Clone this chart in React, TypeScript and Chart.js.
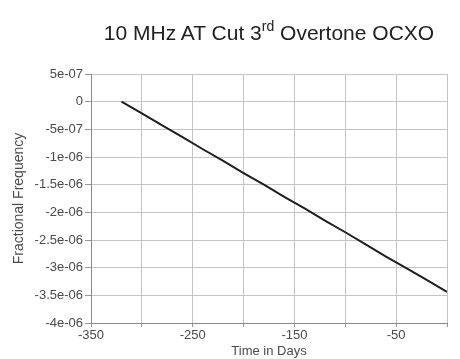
import React, { useEffect, useRef } from "react";
import { Chart, registerables } from "chart.js";

Chart.register(...registerables);

const days = [-320, -300, -280, -260, -240, -220, -200, -180, -160, -140, -120, -100, -80, -60, -40, -20, 0];
const fractionalFrequency = [
  0, -0.21e-6, -0.43e-6, -0.64e-6, -0.86e-6, -1.07e-6, -1.29e-6, -1.5e-6, -1.72e-6,
  -1.93e-6, -2.15e-6, -2.36e-6, -2.58e-6, -2.8e-6, -3.01e-6, -3.22e-6, -3.44e-6,
];
const yTickValues = [5e-7, 0, -5e-7, -1e-6, -1.5e-6, -2e-6, -2.5e-6, -3e-6, -3.5e-6, -4e-6];
const yTickLabels = ["5e-07", "0", "-5e-07", "-1e-06", "-1.5e-06", "-2e-06", "-2.5e-06", "-3e-06", "-3.5e-06", "-4e-06"];
const xTickValues = [-350, -300, -250, -200, -150, -100, -50, 0];
const xTickLabels = ["-350", "", "-250", "", "-150", "", "-50", ""];

const FONT = "'Liberation Sans', Arial, sans-serif";

export default function App() {
  const ref = useRef<HTMLCanvasElement>(null);
  useEffect(() => {
    if (!ref.current) return;
    const chart = new Chart(ref.current, {
      type: "line",
      data: {
        datasets: [
          {
            data: days.map((d, i) => ({ x: d, y: fractionalFrequency[i] })),
            borderColor: "#1e1e1e",
            borderWidth: 2,
            pointRadius: 0,
            tension: 0,
          },
        ],
      },
      options: {
        animation: false,
        responsive: true,
        maintainAspectRatio: false,
        layout: { padding: { top: 74, right: 13, left: 0, bottom: 0 } },
        plugins: { legend: { display: false }, tooltip: { enabled: false }, title: { display: false } },
        scales: {
          x: {
            type: "linear",
            min: -350,
            max: 0,
            afterBuildTicks: (s: any) => {
              s.ticks = xTickValues.map((v) => ({ value: v }));
            },
            afterFit: (s: any) => {
              s.height = 36;
            },
            ticks: {
              autoSkip: false,
              maxRotation: 0,
              padding: 1,
              color: "#4a4a4a",
              font: { family: FONT, size: 13 },
              callback: (_v: any, i: number) => xTickLabels[i],
            },
            grid: { color: "#c4c4c4", tickLength: 4, tickColor: "#999" },
            border: { color: "#8a8a8a" },
            title: {
              display: true,
              text: "Time in Days",
              color: "#4a4a4a",
              font: { family: FONT, size: 13 },
              padding: { top: 0, bottom: 0 },
            },
          },
          y: {
            type: "linear",
            min: -4e-6,
            max: 5e-7,
            afterBuildTicks: (s: any) => {
              s.ticks = yTickValues.map((v) => ({ value: v }));
            },
            afterFit: (s: any) => {
              s.width = 91;
            },
            ticks: {
              autoSkip: false,
              padding: 2,
              color: "#4a4a4a",
              font: { family: FONT, size: 13 },
              callback: (_v: any, i: number) => yTickLabels[i],
            },
            grid: { color: "#c4c4c4", tickLength: 6, tickColor: "#999" },
            border: { color: "#8a8a8a" },
            title: {
              display: true,
              text: "Fractional Frequency",
              color: "#4a4a4a",
              font: { family: FONT, size: 14 },
              padding: { top: 11, bottom: 0 },
            },
          },
        },
      },
    });
    return () => chart.destroy();
  }, []);
  return (
    <div style={{ position: "absolute", left: 0, top: 0, width: 460, height: 359, background: "#fff" }}>
      <div
        style={{
          position: "absolute",
          left: 0,
          width: 538,
          top: 20,
          textAlign: "center",
          fontFamily: FONT,
          fontSize: 21,
          color: "#222",
          whiteSpace: "nowrap",
          lineHeight: "26px",
        }}
      >
        10 MHz AT Cut 3<sup style={{ fontSize: 14, verticalAlign: "baseline", position: "relative", top: -9 }}>rd</sup> Overtone OCXO
      </div>
      <canvas ref={ref} />
    </div>
  );
}
